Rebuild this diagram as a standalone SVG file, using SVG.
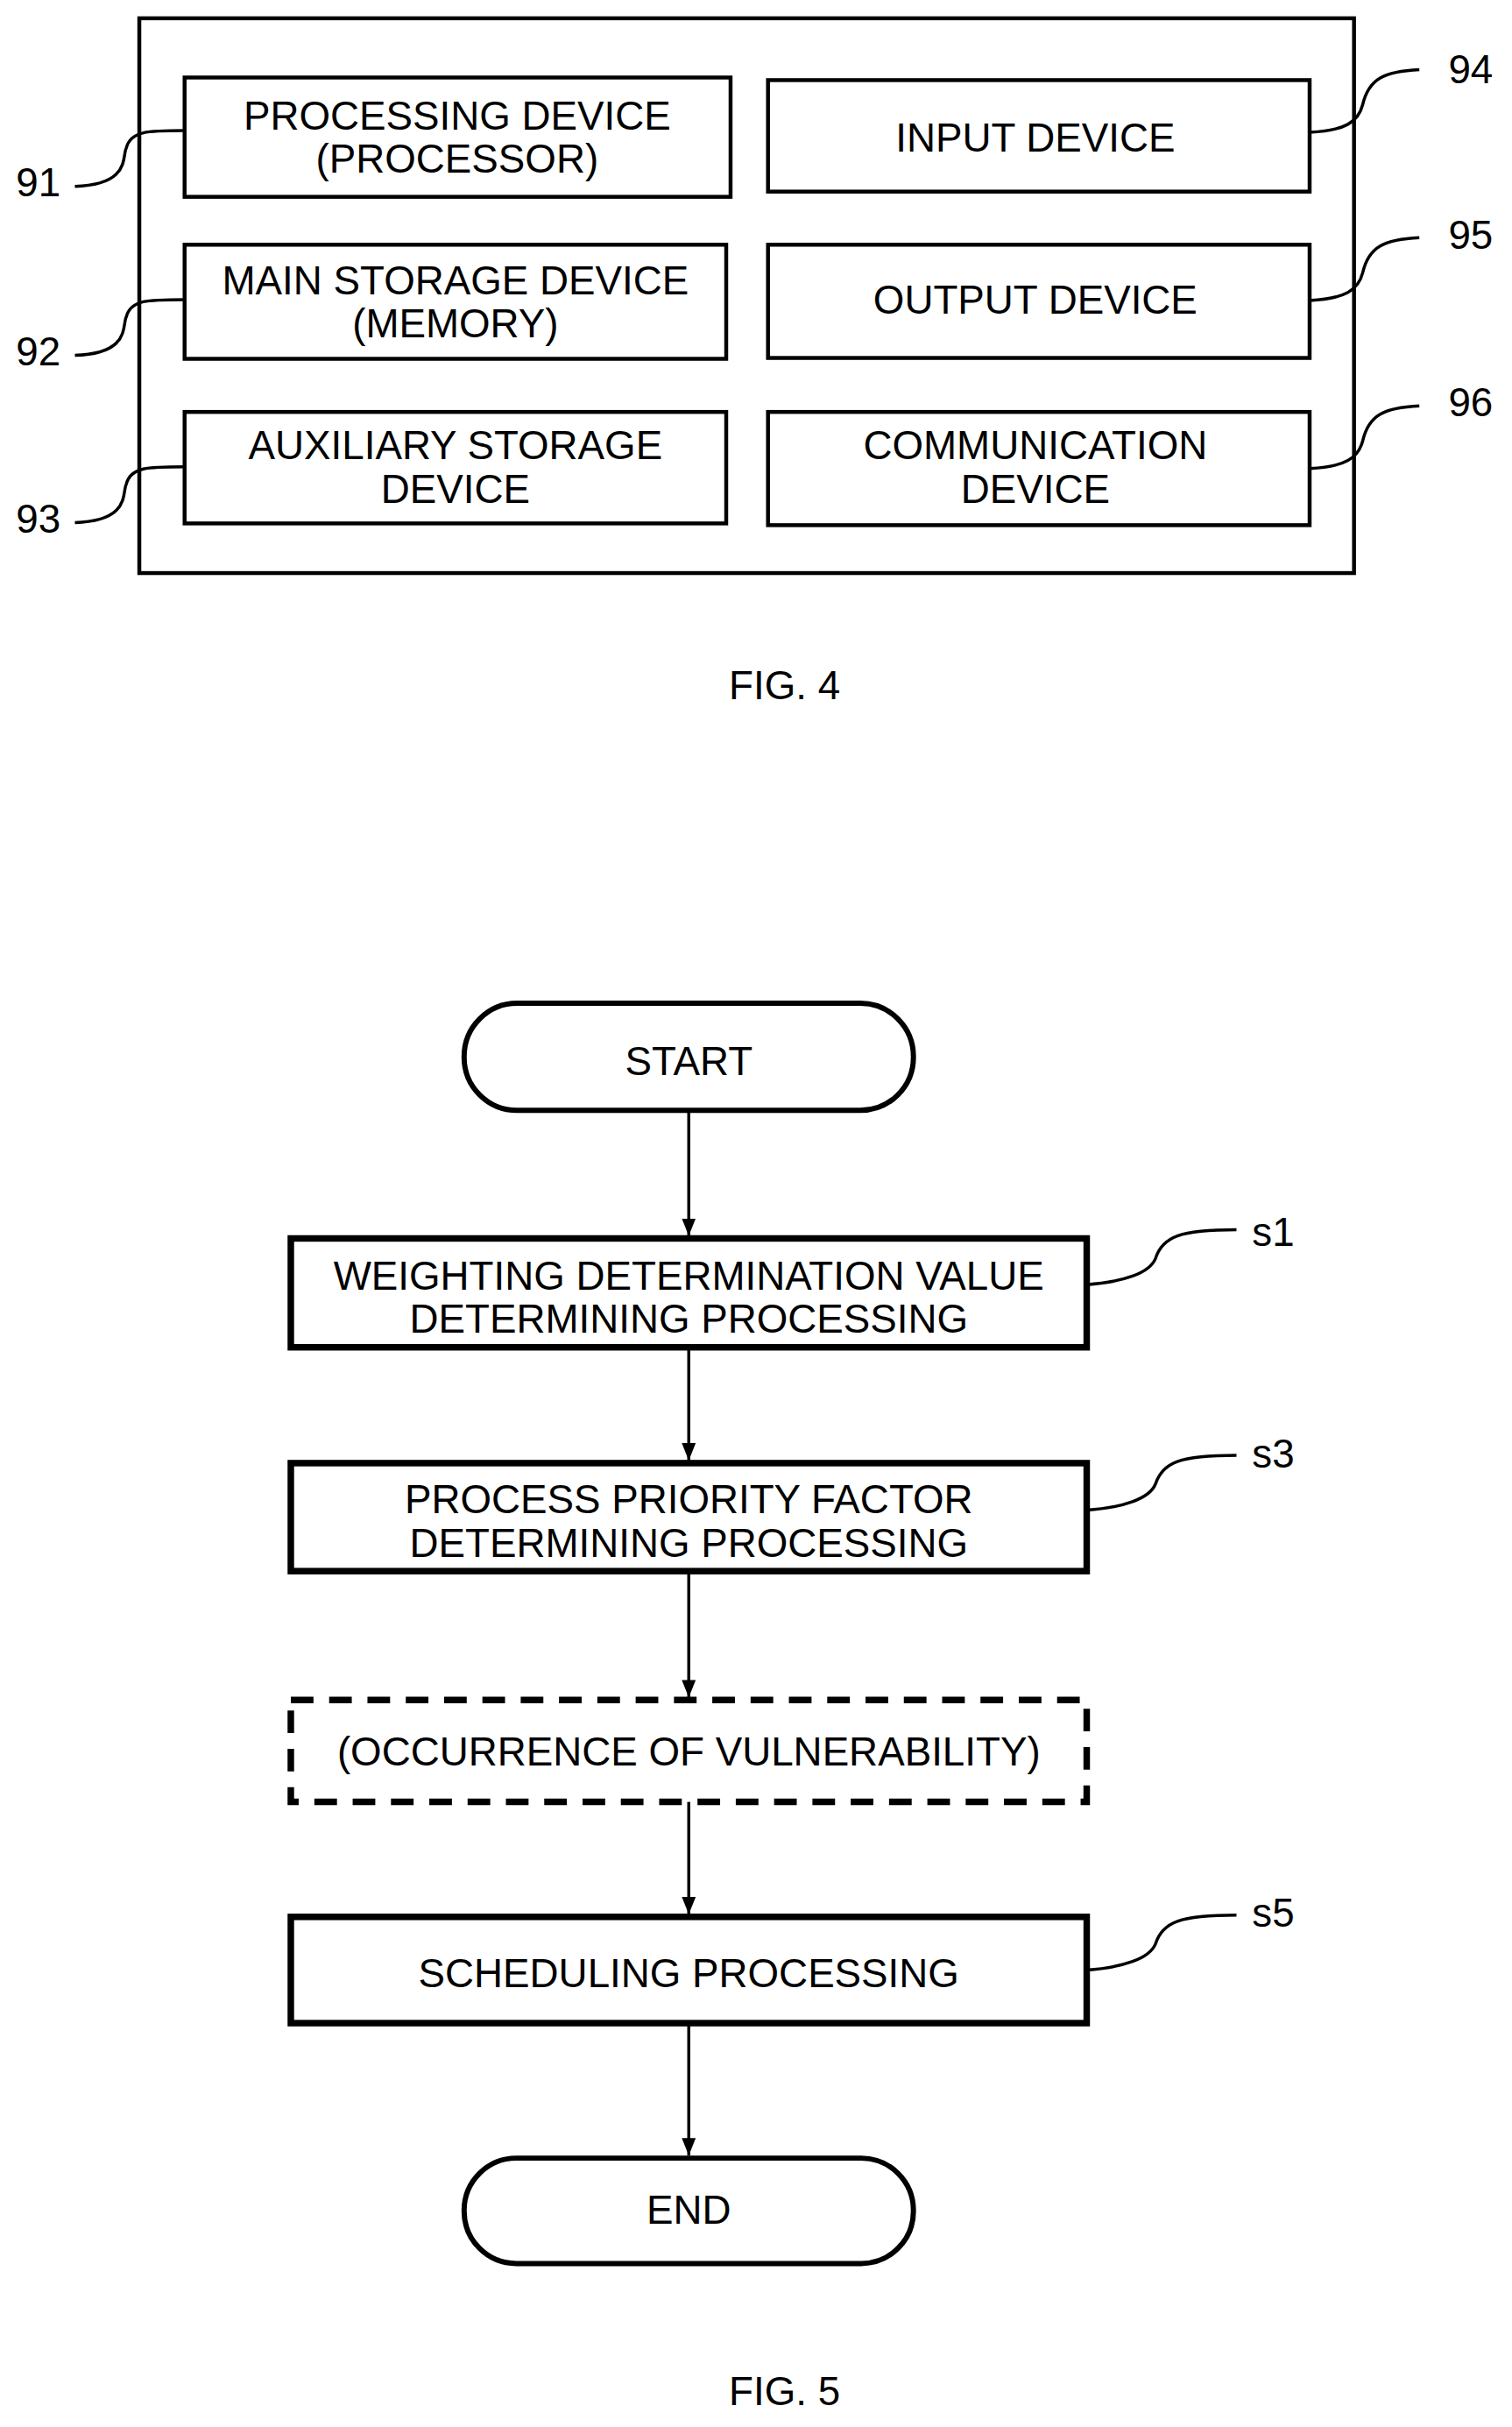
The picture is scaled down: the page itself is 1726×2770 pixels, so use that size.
<svg xmlns="http://www.w3.org/2000/svg" width="1726" height="2770" viewBox="0 0 1726 2770">
<style>
text{font-family:"Liberation Sans",Arial,sans-serif;font-size:46px;fill:#000;text-anchor:middle;dominant-baseline:central}
.b{fill:none;stroke:#000;stroke-width:4.5}
.s{fill:none;stroke:#000;stroke-width:6}
.t{fill:none;stroke:#000;stroke-width:7.5}
.l{fill:none;stroke:#000;stroke-width:3.5}
.lab{text-anchor:start}
</style>
<defs>
<marker id="ah" viewBox="0 0 20 16" markerWidth="20" markerHeight="16" refX="20" refY="8" orient="auto" markerUnits="userSpaceOnUse"><path d="M0,0 L20,8 L0,16 Z"/></marker></defs>
<g transform="scale(0.994)">
<rect class="b" x="160" y="21" width="1395" height="637"/>
<g id="n91"><rect class="b" x="212" y="89" width="627" height="137"/><text x="525" y="133">PROCESSING DEVICE</text><text x="525" y="183">(PROCESSOR)</text></g>
<g id="n92"><rect class="b" x="212" y="281" width="622" height="131"/><text x="523" y="322">MAIN STORAGE DEVICE</text><text x="523" y="372">(MEMORY)</text></g>
<g id="n93"><rect class="b" x="212" y="473" width="622" height="128"/><text x="523" y="512">AUXILIARY STORAGE</text><text x="523" y="562">DEVICE</text></g>
<g id="n94"><rect class="b" x="882" y="92" width="622" height="128"/><text x="1189" y="158">INPUT DEVICE</text></g>
<g id="n95"><rect class="b" x="882" y="281" width="622" height="130"/><text x="1189" y="345">OUTPUT DEVICE</text></g>
<g id="n96"><rect class="b" x="882" y="473" width="622" height="130"/><text x="1189" y="512">COMMUNICATION</text><text x="1189" y="562">DEVICE</text></g>
<g id="refs4">
<path class="l" d="M86,214 C150,212 140,180 145,170 C150,150 170,150 212,150"/><text x="44" y="210">91</text>
<path class="l" d="M86,408 C150,406 140,374 145,364 C150,344 170,344 212,344"/><text x="44" y="404">92</text>
<path class="l" d="M86,600 C150,598 140,566 145,556 C150,536 170,536 212,536"/><text x="44" y="596">93</text>
<path class="l" d="M1504,152 C1545,150 1560,140 1565,120 C1572,90 1590,82 1630,80"/><text x="1689" y="80">94</text>
<path class="l" d="M1504,345 C1545,343 1560,333 1565,313 C1572,283 1590,275 1630,273"/><text x="1689" y="270">95</text>
<path class="l" d="M1504,538 C1545,536 1560,526 1565,506 C1572,476 1590,468 1630,466"/><text x="1689" y="462">96</text>
</g>
<text x="901" y="787">FIG. 4</text>
<g id="start"><rect class="s" x="533" y="1152" width="516" height="123" rx="61"/><text x="791" y="1219">START</text></g>
<g id="s1"><rect class="t" x="334" y="1422" width="914" height="125"/><text x="791" y="1465">WEIGHTING DETERMINATION VALUE</text><text x="791" y="1515">DETERMINING PROCESSING</text></g>
<g id="s3"><rect class="t" x="334" y="1680" width="914" height="124"/><text x="791" y="1722">PROCESS PRIORITY FACTOR</text><text x="791" y="1772">DETERMINING PROCESSING</text></g>
<g id="vul"><rect class="t" x="334" y="1952" width="914" height="117" stroke-dasharray="26,18"/><text x="791" y="2012">(OCCURRENCE OF VULNERABILITY)</text></g>
<g id="s5"><rect class="t" x="334" y="2201" width="914" height="122"/><text x="791" y="2266">SCHEDULING PROCESSING</text></g>
<g id="end"><rect class="s" x="533" y="2478" width="516" height="121" rx="60"/><text x="791" y="2538">END</text></g>
<g id="connectors">
<line class="l" x1="791" y1="1275" x2="791" y2="1419" marker-end="url(#ah)"/>
<line class="l" x1="791" y1="1547" x2="791" y2="1677" marker-end="url(#ah)"/>
<line class="l" x1="791" y1="1804" x2="791" y2="1949" marker-end="url(#ah)"/>
<line class="l" x1="791" y1="2069" x2="791" y2="2198" marker-end="url(#ah)"/>
<line class="l" x1="791" y1="2323" x2="791" y2="2475" marker-end="url(#ah)"/>
<path class="l" d="M1248,1475 C1290,1472 1320,1462 1327,1445 C1335,1420 1355,1412 1420,1412"/>
<path class="l" d="M1248,1734 C1290,1731 1320,1721 1327,1704 C1335,1679 1355,1671 1420,1671"/>
<path class="l" d="M1248,2262 C1290,2259 1320,2249 1327,2232 C1335,2207 1355,2199 1420,2199"/>
</g>
<text class="lab" x="1438" y="1415">s1</text>
<text class="lab" x="1438" y="1670">s3</text>
<text class="lab" x="1438" y="2197">s5</text>
<text x="901" y="2746">FIG. 5</text>
</g>
</svg>
